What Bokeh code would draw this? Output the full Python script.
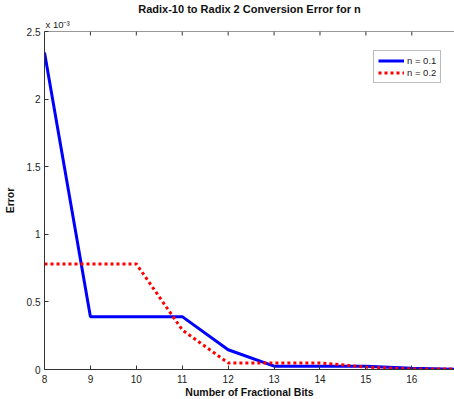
import math
from bokeh.plotting import figure
from bokeh.models import (LinearAxis, FixedTicker, CustomJSTickFormatter, Legend, LegendItem,
                          Title, Range1d, Span)
from bokeh.embed import file_html
from bokeh.resources import INLINE

# Data (error values in units of 1e-3)
bits = [8, 9, 10, 11, 12, 13, 14, 15, 16, 17]
err_n01 = [2.344, 0.391, 0.391, 0.391, 0.146, 0.0244, 0.0244, 0.0244, 0.0092, 0.0015]
err_n02 = [0.781, 0.781, 0.781, 0.293, 0.0488, 0.0488, 0.0488, 0.0183, 0.0031, 0.0031]
x_ticks = [8, 9, 10, 11, 12, 13, 14, 15, 16, 17]
y_ticks = [0, 0.5, 1, 1.5, 2, 2.5]
labels = ["n = 0.1", "n = 0.2"]

FONT = "Liberation Sans"

p = figure(frame_width=410, frame_height=338, output_backend="svg", toolbar_location=None,
           x_range=Range1d(8, 16.93), y_range=Range1d(0, 2.5),
           x_axis_location=None, y_axis_location=None, title=None,
           min_border_left=36, min_border_right=0, min_border_top=23, min_border_bottom=28)
p.grid.visible = False
p.outline_line_color = None
p.background_fill_color = "white"
p.border_fill_color = "white"

exp_title = Title(text="x 10\u207b\u00b3", align="left", text_font=FONT,
                  text_font_size="9.5px", text_font_style="normal", text_color="#222222",
                  offset=1, standoff=4)
p.add_layout(exp_title, "above")
main_title = Title(text="Radix-10 to Radix 2 Conversion Error for n", align="center",
                   text_font=FONT, text_font_size="11px", text_font_style="bold",
                   text_color="#111111", offset=0, standoff=0)
p.add_layout(main_title, "above")

fmt = CustomJSTickFormatter(code="return tick.toString();")

def style(ax):
    ax.major_tick_in = 4
    ax.major_tick_out = 0
    ax.minor_tick_in = 0
    ax.minor_tick_out = 0
    ax.axis_line_color = "#333333"
    ax.major_tick_line_color = "#333333"
    ax.major_label_text_font = FONT
    ax.major_label_text_font_size = "10px"
    ax.major_label_text_color = "#222222"
    ax.axis_label_text_font = FONT
    ax.axis_label_text_font_style = "bold"
    ax.axis_label_text_font_size = "10.5px"
    ax.axis_label_text_color = "#111111"

xb = LinearAxis(ticker=FixedTicker(ticks=x_ticks), formatter=fmt,
                axis_label="Number of Fractional Bits")
style(xb)
xb.major_label_standoff = 5
xb.axis_label_standoff = 0
p.add_layout(xb, "below")

yl = LinearAxis(ticker=FixedTicker(ticks=y_ticks), formatter=fmt, axis_label="Error")
style(yl)
yl.major_label_standoff = 4
yl.axis_label_standoff = 8
p.add_layout(yl, "left")

# top box edge with inward ticks
p.add_layout(Span(location=2.5, dimension="width", line_color="#333333", line_width=1))
p.ray(x=x_ticks, y=[2.5] * len(x_ticks), length=4, length_units="screen",
      angle=-math.pi / 2, line_color="#333333", line_width=1)

r1 = p.line(bits, err_n01, line_color="#0000ff", line_width=3)
r2 = p.line(bits, err_n02, line_color="#ff0000", line_width=3, line_dash="3 3")

legend = Legend(items=[LegendItem(label=labels[0], renderers=[r1]),
                       LegendItem(label=labels[1], renderers=[r2])],
                location=(329, 286))
legend.border_line_color = "#777777"
legend.border_line_width = 1
legend.label_text_font = FONT
legend.label_text_font_size = "9.5px"
legend.label_text_color = "#222222"
legend.glyph_width = 26
legend.glyph_height = 11
legend.label_height = 11
legend.label_width = 10
legend.spacing = 1
legend.padding = 4
legend.margin = 0
legend.label_standoff = 3
p.add_layout(legend)

open("out.html", "w").write(file_html(p, INLINE))
